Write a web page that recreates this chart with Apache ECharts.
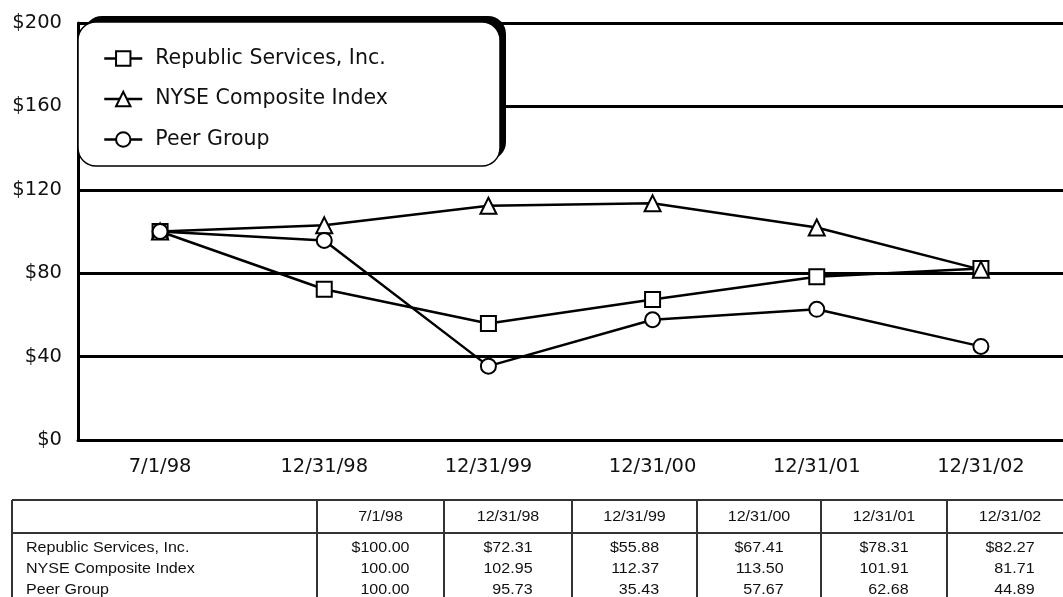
<!DOCTYPE html>
<html><head><meta charset="utf-8">
<script src="https://cdn.jsdelivr.net/npm/echarts@6/dist/echarts.min.js"></script>
<style>html,body{margin:0;padding:0;background:#fff}#c{width:1063px;height:597px}</style>
</head><body><div id="c"></div>
<script>
// ---- data ----
const categories = ['7/1/98', '12/31/98', '12/31/99', '12/31/00', '12/31/01', '12/31/02'];
const republic = [100.00, 72.31, 55.88, 67.41, 78.31, 82.27];
const nyse = [100.00, 102.95, 112.37, 113.50, 101.91, 81.71];
const peer = [100.00, 95.73, 35.43, 57.67, 62.68, 44.89];
const seriesNames = ['Republic Services, Inc.', 'NYSE Composite Index', 'Peer Group'];
const seriesSymbols = ['rect', 'triangle', 'circle'];
const yMin = 0, yMax = 200, yStep = 40;

// ---- styles / layout ----
const FONT = 'DejaVu Sans';
const TFONT = 'Liberation Sans';
const tScale = 1.05;
const tColor = '#111';
const tLine = '#333';
const colEdges = [317, 444, 572, 697, 821, 947, 1073];
const tLeft = 12, tTop = 500, tHead = 533, tBottom = 600;
const headY = 517, rowY0 = 548, rowStep = 21;
const dataFont = 15.3, headFont = 15.3;

const mctx = document.createElement('canvas').getContext('2d');
function textW(s, size) { mctx.font = size + 'px "' + TFONT + '"'; return mctx.measureText(s).width; }

const rows = [republic, nyse, peer];
function fmt(v, r) { return (r === 0 ? '$' : '') + v.toFixed(2); }

const graphics = [];
// legend box with offset shadow
graphics.push({ type: 'rect', z: 3, z2: 0, shape: { x: 84, y: 16, width: 422, height: 144, r: 18 }, style: { fill: '#000' } });
graphics.push({ type: 'rect', z: 3, z2: 1, shape: { x: 78, y: 22, width: 422, height: 144, r: 18 }, style: { fill: '#fff', stroke: '#000', lineWidth: 1.5 } });

// table lines
const lastX = colEdges[colEdges.length - 1];
graphics.push({ type: 'line', z: 3, shape: { x1: tLeft, y1: tTop, x2: lastX, y2: tTop }, style: { stroke: tLine, lineWidth: 2 } });
graphics.push({ type: 'line', z: 3, shape: { x1: tLeft, y1: tHead, x2: lastX, y2: tHead }, style: { stroke: tLine, lineWidth: 2 } });
graphics.push({ type: 'line', z: 3, shape: { x1: tLeft, y1: tTop, x2: tLeft, y2: tBottom }, style: { stroke: tLine, lineWidth: 2 } });
colEdges.forEach(function (x) {
  graphics.push({ type: 'line', z: 3, shape: { x1: x, y1: tTop, x2: x, y2: tBottom }, style: { stroke: tLine, lineWidth: 2 } });
});
// header
categories.forEach(function (c, i) {
  const cx = (colEdges[i] + colEdges[i + 1]) / 2;
  graphics.push({ type: 'text', z: 4, x: cx, y: headY, scaleX: tScale,
    style: { text: c, fontFamily: TFONT, fontSize: headFont, fill: tColor, align: 'center', verticalAlign: 'middle' } });
});
// rows
seriesNames.forEach(function (n, r) {
  const y = rowY0 + r * rowStep;
  graphics.push({ type: 'text', z: 4, x: tLeft + 14, y: y, scaleX: tScale,
    style: { text: n, fontFamily: TFONT, fontSize: dataFont, fill: tColor, align: 'left', verticalAlign: 'middle' } });
  rows[r].forEach(function (v, i) {
    const cx = (colEdges[i] + colEdges[i + 1]) / 2;
    const w = textW(fmt(rows[0][i], 0), dataFont) * tScale;
    graphics.push({ type: 'text', z: 4, x: cx + w / 2, y: y, scaleX: tScale,
      style: { text: fmt(v, r), fontFamily: TFONT, fontSize: dataFont, fill: tColor, align: 'right', verticalAlign: 'middle' } });
  });
});

const chart = echarts.init(document.getElementById('c'));
const seriesData = [republic, nyse, peer];
const option = {
  animation: false,
  backgroundColor: '#fff',
  grid: { left: 78, top: 23, width: 996, height: 417 },
  xAxis: {
    type: 'category', data: categories, boundaryGap: true,
    axisLine: { lineStyle: { color: '#000', width: 3 } },
    axisTick: { alignWithLabel: true, length: 7, lineStyle: { color: '#000', width: 2 } },
    axisLabel: { interval: 0, margin: 17, color: '#111', fontFamily: FONT, fontSize: 19.5 },
    splitLine: { show: false }
  },
  yAxis: {
    type: 'value', min: yMin, max: yMax, interval: yStep,
    axisLine: { show: true, lineStyle: { color: '#000', width: 3 } },
    axisTick: { show: false },
    splitLine: { show: true, lineStyle: { color: '#000', width: 3 } },
    axisLabel: { margin: 16, formatter: '${value}', color: '#111', fontFamily: FONT, fontSize: 19.5 }
  },
  legend: {
    orient: 'vertical', left: 98, top: 43, itemGap: 19.5, itemWidth: 38, itemHeight: 18,
    data: seriesNames, z: 6,
    lineStyle: { width: 2.5, color: '#000' },
    itemStyle: { color: '#fff', borderColor: '#000', borderWidth: 2 },
    textStyle: { fontFamily: FONT, fontSize: 20.5, color: '#111', padding: [0, 0, 0, 8] }
  },
  graphic: graphics,
  series: seriesNames.map(function (n, i) {
    return {
      name: n, type: 'line', data: seriesData[i],
      symbol: seriesSymbols[i], symbolSize: i === 1 ? 16 : 15,
      lineStyle: { color: '#000', width: 2.5 },
      itemStyle: { color: '#fff', borderColor: '#000', borderWidth: 2 },
      emphasis: { disabled: true }
    };
  })
};
chart.setOption(option);
</script>
</body></html>
